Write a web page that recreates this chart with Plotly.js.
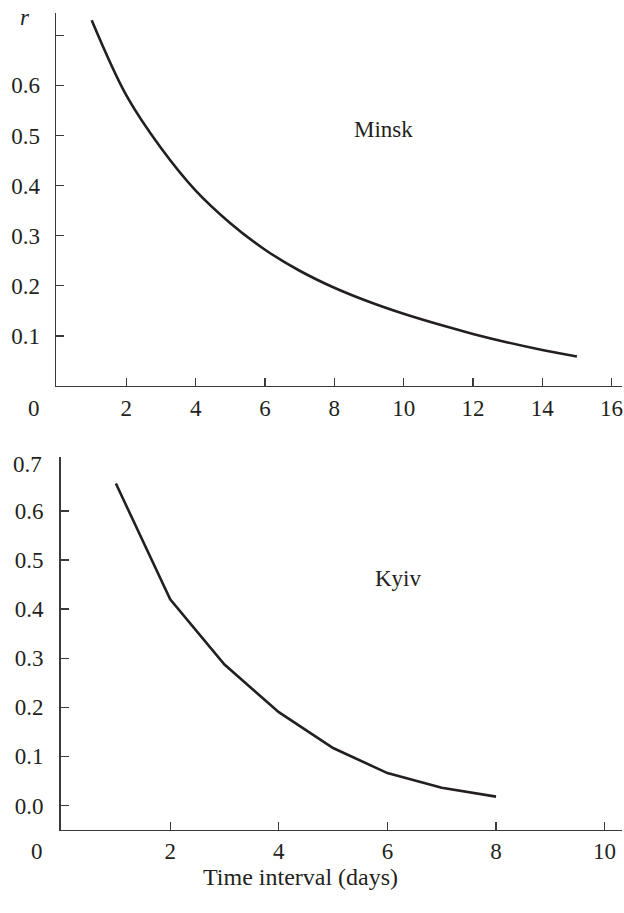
<!DOCTYPE html>
<html>
<head>
<meta charset="utf-8">
<script src="https://cdn.plot.ly/plotly-3.0.1.min.js"></script>
<style>html,body{margin:0;padding:0;background:#fff;}#chart{width:624px;height:913px;}</style>
</head>
<body>
<div id="chart"></div>
<script>
// Minsk panel
const minskDays = [1,2,3,4,5,6,7,8,9,10,11,12,13,14,15];
const minskR = [0.73,0.58,0.475,0.39,0.325,0.272,0.23,0.196,0.168,0.144,0.123,0.104,0.087,0.072,0.059];
// Kyiv panel
const kyivDays = [1,2,3,4,5,6,7,8];
const kyivR = [0.656,0.42,0.287,0.19,0.117,0.066,0.036,0.018];
// tick labels
const topXTicks = [2,4,6,8,10,12,14,16];
const topYTicks = [0.1,0.2,0.3,0.4,0.5,0.6,0.7];
const topYText = ['0.1','0.2','0.3','0.4','0.5','0.6',''];
const botXTicks = [2,4,6,8,10];
const botYTicks = [0.0,0.1,0.2,0.3,0.4,0.5,0.6,0.7];
const botYText = ['0.0','0.1','0.2','0.3','0.4','0.5','0.6','0.7'];

const W = 624, H = 913;
const font = {family: 'Liberation Serif', size: 23, color: '#231f20'};
const lineStyle = {color: '#231f20', width: 2.6};

const traces = [
  {x: minskDays, y: minskR, mode: 'lines', line: Object.assign({shape: 'spline', smoothing: 1}, lineStyle), xaxis: 'x', yaxis: 'y', hoverinfo: 'skip'},
  {x: kyivDays, y: kyivR, mode: 'lines', line: lineStyle, xaxis: 'x2', yaxis: 'y2', hoverinfo: 'skip'}
];

const axBase = {
  showline: true, linecolor: '#3a3a3a', linewidth: 1.3,
  ticks: 'inside', ticklen: 8, tickwidth: 1.3, tickcolor: '#3a3a3a',
  showgrid: false, zeroline: false, tickfont: font, tickmode: 'array', fixedrange: true
};

function px(x){return x / W;}
function py(y){return 1 - y / H;}

const layout = {
  width: W, height: H, autosize: false,
  margin: {l: 0, r: 0, t: 0, b: 0},
  paper_bgcolor: '#fff', plot_bgcolor: '#fff',
  showlegend: false,
  font: font,
  xaxis: Object.assign({}, axBase, {domain: [px(56), px(622)], range: [-0.03, 16.3], tickvals: topXTicks, ticktext: topXTicks.map(String), anchor: 'y', ticklabelstandoff: 1}),
  yaxis: Object.assign({}, axBase, {domain: [py(386), py(12.7)], range: [0, 0.745], tickvals: topYTicks, ticktext: topYText, anchor: 'x', ticklabelstandoff: 10}),
  xaxis2: Object.assign({}, axBase, {domain: [px(60.5), px(622)], range: [-0.02, 10.32], tickvals: botXTicks, ticktext: botXTicks.map(String), anchor: 'y2', ticklabelstandoff: 0}),
  yaxis2: Object.assign({}, axBase, {domain: [py(830), py(457)], range: [-0.05, 0.71], tickvals: botYTicks.slice(0,7), ticktext: botYText.slice(0,7), anchor: 'x2', ticklabelstandoff: 11}),
  annotations: [
    {text: 'Minsk', xref: 'paper', yref: 'paper', x: px(383), y: py(130), showarrow: false, font: font, xanchor: 'center', yanchor: 'middle'},
    {text: 'Kyiv', xref: 'paper', yref: 'paper', x: px(398), y: py(578), showarrow: false, font: font, xanchor: 'center', yanchor: 'middle'},
    {text: '<i>r</i>', xref: 'paper', yref: 'paper', x: px(25), y: py(17), showarrow: false, font: font, xanchor: 'center', yanchor: 'middle'},
    {text: '0', xref: 'paper', yref: 'paper', x: px(34), y: py(408), showarrow: false, font: font, xanchor: 'center', yanchor: 'middle'},
    {text: '0', xref: 'paper', yref: 'paper', x: px(37), y: py(851), showarrow: false, font: font, xanchor: 'center', yanchor: 'middle'},
    {text: botYText[7], xref: 'paper', yref: 'paper', x: px(44), y: py(465), showarrow: false, font: font, xanchor: 'right', yanchor: 'middle'},
    {text: 'Time interval (days)', xref: 'paper', yref: 'paper', x: px(300), y: py(877), showarrow: false, font: Object.assign({}, font, {size: 24}), xanchor: 'center', yanchor: 'middle'}
  ]
};

Plotly.newPlot('chart', traces, layout, {staticPlot: true, displayModeBar: false});
</script>
</body>
</html>
